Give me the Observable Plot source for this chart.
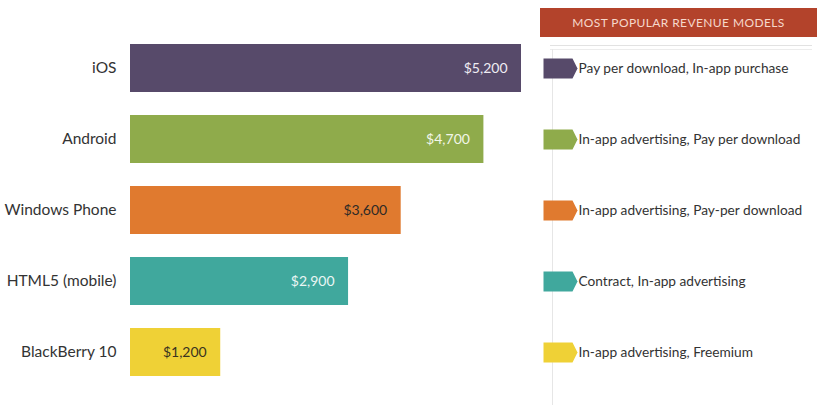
<!DOCTYPE html>
<html><head><meta charset="utf-8">
<script src="https://cdn.jsdelivr.net/npm/d3@7"></script>
<script src="https://cdn.jsdelivr.net/npm/@observablehq/plot@0.6"></script>
<style>
body{margin:0;background:#fff;}
#wrap{position:relative;width:825px;height:411px;overflow:hidden;font-family:Lato, "Open Sans", sans-serif;background:#fff;}
#wrap svg{position:absolute;left:0;top:0;}
#header{position:absolute;left:540px;top:8px;width:277px;height:29px;background:#b3432b;color:#f6d8cb;font-size:12px;line-height:30px;text-align:center;letter-spacing:0.4px;z-index:2;}
.hline{position:absolute;left:550px;top:45px;width:262px;height:3px;border-top:1px solid #e2e2e2;border-bottom:1px solid #ececec;}
.vline{position:absolute;left:552px;top:49px;width:1px;height:356px;background:#e6e6e6;}
</style></head>
<body><div id="wrap"></div>
<script>
// ---- data ----
const platforms = ["iOS", "Android", "Windows Phone", "HTML5 (mobile)", "BlackBerry 10"];
const revenue = [5200, 4700, 3600, 2900, 1200];
const valueLabels = ["$5,200", "$4,700", "$3,600", "$2,900", "$1,200"];
const revenueModels = [
  "Pay per download, In-app purchase",
  "In-app advertising, Pay per download",
  "In-app advertising, Pay-per download",
  "Contract, In-app advertising",
  "In-app advertising, Freemium"
];
const legendTitle = "MOST POPULAR REVENUE MODELS";

// ---- styles ----
const barColors = ["#574a6a", "#8fab4b", "#e07a2f", "#40a89d", "#efd136"];
const labelInk = ["#efedf3", "#f2f6e8", "#2e2a26", "#eaf6f4", "#3a3320"];

const data = platforms.map((p, i) => ({
  platform: p, revenue: revenue[i], label: valueLabels[i], model: revenueModels[i], ink: labelInk[i]
}));

const W = 825, H = 411;
const yScale = {type: "band", domain: platforms, range: [20, 399.5], padding: 0.327};
const colorScale = {domain: platforms, range: barColors};
const baseStyle = {fontFamily: "Lato, 'Open Sans', sans-serif", fontSize: "14px", background: "transparent", overflow: "visible"};

const bars = Plot.plot({
  width: W, height: H,
  marginLeft: 130, marginRight: W - 521, marginTop: 0, marginBottom: 0,
  style: baseStyle,
  x: {domain: [0, 5200], axis: null},
  y: {...yScale, label: null},
  color: colorScale,
  marks: [
    Plot.barX(data, {x: "revenue", y: "platform", fill: "platform"}),
    Plot.text(data, {x: "revenue", y: "platform", text: "label", textAnchor: "end", dx: -14,
      fill: {value: d => d.ink, scale: null}, fontSize: 14}),
    Plot.axisY({tickSize: 0, tickPadding: 14, fontSize: 15.5, fill: "#333", label: null})
  ]
});

const chevron = {
  draw(ctx, size) {
    const k = Math.sqrt(size / Math.PI) / 10;
    ctx.moveTo(-17 * k, -10 * k);
    ctx.lineTo(12 * k, -10 * k);
    ctx.lineTo(17 * k, 0);
    ctx.lineTo(12 * k, 10 * k);
    ctx.lineTo(-17 * k, 10 * k);
    ctx.closePath();
  }
};

const legend = Plot.plot({
  width: W, height: H,
  style: baseStyle,
  x: {domain: [0, 1], range: [543, 817], axis: null},
  y: {...yScale, axis: null},
  color: colorScale,
  marks: [
    Plot.dot(data, {x: () => 0, y: "platform", fill: "platform", symbol: chevron, r: 10, dx: 17}),
    Plot.text(data, {x: () => 0, y: "platform", text: "model", dx: 35, textAnchor: "start", fill: "#333", fontSize: 13.7})
  ]
});

const wrap = document.getElementById("wrap");
wrap.appendChild(bars);
const header = document.createElement("div");
header.id = "header"; header.textContent = legendTitle;
wrap.appendChild(header);
const hl = document.createElement("div"); hl.className = "hline"; wrap.appendChild(hl);
const vl = document.createElement("div"); vl.className = "vline"; wrap.appendChild(vl);
wrap.appendChild(legend);
</script>
</body></html>
